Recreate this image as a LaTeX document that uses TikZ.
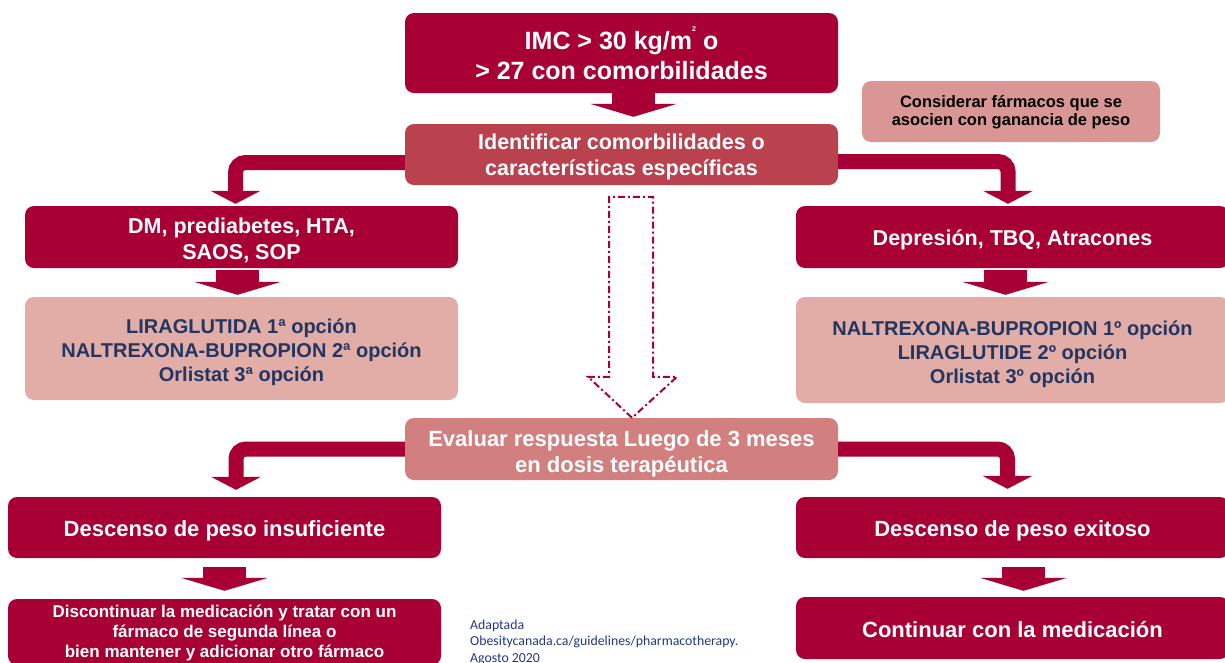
\documentclass[tikz,border=0pt]{standalone}
\usepackage{fontspec}
\setmainfont{Liberation Sans}
\newfontfamily\citefont{Carlito}
\usetikzlibrary{arrows.meta}
\definecolor{crim}{RGB}{168,0,52}
\definecolor{crimb}{RGB}{186,66,78}
\definecolor{rosea}{RGB}{209,127,127}
\definecolor{roseb}{RGB}{217,150,148}
\definecolor{pinkc}{RGB}{226,172,167}
\definecolor{navy}{RGB}{34,54,98}
\definecolor{citeblue}{RGB}{32,56,130}
\newcommand{\topstrut}[1]{\rule{0pt}{#1}}
\begin{document}
\begin{tikzpicture}[x=1pt,y=-1pt,
  box/.style={rounded corners=9pt, inner sep=0pt, align=center, text=white,
    font=\bfseries\fontsize{21.5}{26}\selectfont, minimum width=433pt},
  optbox/.style={box, fill=pinkc, text=navy, font=\bfseries\fontsize{20}{24}\selectfont},
  blockarrow/.style={draw=crim, line width=43pt,
    -{Triangle[length=13pt,width=87pt,line width=0pt]}},
  bentarrow/.style={draw=crim, line width=15pt, rounded corners=10pt,
    -{Triangle[length=13pt,width=50pt,line width=0pt]}},
  dashedarrow/.style={draw=crim, line width=2pt, line join=miter,
    dash pattern=on 7pt off 3pt on 2pt off 3pt}
]
\useasboundingbox (0,0) rectangle (1225,662);

\node[box, fill=crim, minimum height=80pt, font=\bfseries\fontsize{25}{30}\selectfont] (imc) at (621.5,53)
  {\topstrut{21pt}IMC > 30 kg/m\raisebox{0.7em}{\fontsize{7}{7}\selectfont 2} o\\> 27 con comorbilidades};
\node[box, fill=crimb, minimum height=61pt] (ident) at (621.5,154.5)
  {\topstrut{20pt}Identificar comorbilidades o\\características específicas};
\node[box, fill=roseb, text=black, minimum width=298pt, minimum height=61pt,
  font=\bfseries\fontsize{16.5}{18}\selectfont] (cons) at (1011,111.5)
  {\topstrut{14pt}Considerar fármacos que se\\asocien con ganancia de peso};
\node[box, fill=crim, minimum height=62pt] (dm) at (241.5,237) {\topstrut{23pt}DM, prediabetes, HTA,\\SAOS, SOP};
\node[box, fill=crim, minimum height=62pt] (dep) at (1012.5,237) {\topstrut{22pt}Depresión, TBQ, Atracones};
\node[optbox, minimum height=103pt] (lp) at (241.5,348.5)
  {\topstrut{23pt}LIRAGLUTIDA 1ª opción\\NALTREXONA-BUPROPION 2ª opción\\Orlistat 3ª opción};
\node[optbox, minimum height=106pt] (rp) at (1012.5,350)
  {\topstrut{23pt}NALTREXONA-BUPROPION 1º opción\\LIRAGLUTIDE 2º opción\\Orlistat 3º opción};
\node[box, fill=rosea, minimum height=62pt, font=\bfseries\fontsize{22}{26}\selectfont] (ev) at (621.5,449)
  {\topstrut{26pt}Evaluar respuesta Luego de 3 meses\\en dosis terapéutica};
\node[box, fill=crim, minimum height=61pt, font=\bfseries\fontsize{22}{26}\selectfont] (ins) at (224.5,527.5)
  {\topstrut{22pt}Descenso de peso insuficiente};
\node[box, fill=crim, minimum height=61pt, font=\bfseries\fontsize{22}{26}\selectfont] (exi) at (1012.5,527.5)
  {\topstrut{22pt}Descenso de peso exitoso};
\node[box, fill=crim, minimum height=66pt, font=\bfseries\fontsize{17}{20}\selectfont] (disc) at (224.5,632)
  {\topstrut{15pt}Discontinuar la medicación y tratar con un\\fármaco de segunda línea o\\bien mantener y adicionar otro fármaco};
\node[box, fill=crim, minimum height=62pt, font=\bfseries\fontsize{22}{26}\selectfont] (cont) at (1012.5,628)
  {\topstrut{19pt}Continuar con la medicación};
\node[anchor=north west, align=left, inner sep=0pt, text=citeblue,
  font=\citefont\fontsize{13.8}{16.5}\selectfont] (cite) at (470,619.5)
  {Adaptada\\Obesitycanada.ca/guidelines/pharmacotherapy.\\Agosto 2020};

% straight block arrows
\draw[blockarrow, shorten >=7pt] ([xshift=12pt]imc.south) -- ([xshift=12pt]ident.north);
\draw[blockarrow, shorten <=2pt, shorten >=2pt] ([xshift=-4pt]dm.south) -- ([xshift=-4pt]lp.north);
\draw[blockarrow, shorten <=2pt, shorten >=2pt] ([xshift=-7pt]dep.south) -- ([xshift=-7pt]rp.north);
\draw[blockarrow, shorten <=9pt, shorten >=8pt] (ins.south) -- (disc.north);
\draw[blockarrow, shorten <=9pt, shorten >=6pt] ([xshift=11pt]exi.south) -- ([xshift=11pt]cont.north);

% bent arrows
\draw[bentarrow, shorten >=2pt] ([yshift=-8pt]ident.west) -| ([xshift=-6pt]dm.north);
\draw[bentarrow, shorten >=2pt] ([yshift=-7pt]ident.east) -| ([xshift=-4.5pt]dep.north);
\draw[bentarrow, shorten >=7pt] (ev.west) -| ([xshift=11.5pt]ins.north);
\draw[bentarrow, shorten >=8pt] (ev.east) -| ([xshift=-5pt]exi.north);

% dashed hollow arrow
\draw[dashedarrow] ([xshift=10.5pt]ev.north) -- ++(-44,-41) -- ++(21,0) -- ++(0,-180)
  -- ++(44,0) -- ++(0,180) -- ++(24,0) -- cycle;
\end{tikzpicture}
\end{document}
